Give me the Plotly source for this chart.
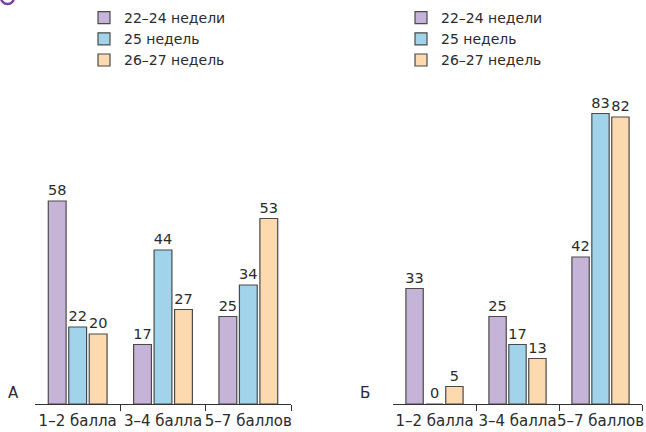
import plotly.graph_objects as go

categories = ["1–2 балла", "3–4 балла", "5–7 баллов"]
series_names = ["22–24 недели", "25 недель", "26–27 недель"]
panel_a = {
    "22–24 недели": [58, 17, 25],
    "25 недель": [22, 44, 34],
    "26–27 недель": [20, 27, 53],
}
panel_b = {
    "22–24 недели": [33, 25, 42],
    "25 недель": [0, 17, 83],
    "26–27 недель": [5, 13, 82],
}
colors = ["#C6B4D8", "#A1D4EB", "#FDD9AF"]
font_family = "DejaVu Sans, sans-serif"
W, H = 646, 432

fig = go.Figure()
xpos = list(range(len(categories)))

for panel, xa, ya, lg in [(panel_a, "x", "y", "legend"), (panel_b, "x2", "y2", "legend2")]:
    for name, col in zip(series_names, colors):
        vals = panel[name]
        fig.add_trace(go.Bar(
            x=xpos, y=vals, name=name, xaxis=xa, yaxis=ya, legend=lg,
            marker=dict(color=col, line=dict(color="#4a4a4a", width=1.2)),
            text=[str(v) for v in vals], textposition="outside",
            textfont=dict(size=14.5, color="#2a2a2a", family=font_family),
            constraintext="none", cliponaxis=False,
        ))

def px(x):
    return x / W

def py(y):
    return 1 - y / H

ydom = [py(404), py(54)]
xaxis_common = dict(
    range=[-0.5, 2.5], tickmode="array", tickvals=xpos, ticktext=categories,
    ticks="", showline=True, linecolor="#333333", linewidth=1.2,
    showgrid=False, zeroline=False, fixedrange=True, automargin=False,
    tickangle=0, ticklabelstandoff=3,
    tickfont=dict(size=15, color="#2a2a2a", family=font_family),
    minor=dict(tickmode="array", tickvals=[0.5, 1.5, 2.5], ticks="outside",
               ticklen=6, tickwidth=1.2, tickcolor="#333333"),
)
yaxis_common = dict(range=[0, 100], visible=False, showgrid=False, zeroline=False,
                    fixedrange=True)

legend_font = dict(size=14, family=font_family, color="#2a2a2a")

fig.update_layout(
    width=W, height=H,
    margin=dict(l=0, r=0, t=0, b=0),
    paper_bgcolor="white", plot_bgcolor="white",
    barmode="group", bargap=0.28, bargroupgap=0.13,
    font=dict(family=font_family, size=15, color="#2a2a2a"),
    xaxis=dict(domain=[px(35), px(291)], anchor="y", **xaxis_common),
    yaxis=dict(domain=ydom, anchor="x", **yaxis_common),
    xaxis2=dict(domain=[px(393), px(642)], anchor="y2", **xaxis_common),
    yaxis2=dict(domain=ydom, anchor="x2", **yaxis_common),
    legend=dict(x=px(84), y=py(2), xanchor="left", yanchor="top",
                font=legend_font, bgcolor="rgba(0,0,0,0)", tracegroupgap=0),
    legend2=dict(x=px(401), y=py(2), xanchor="left", yanchor="top",
                 font=legend_font, bgcolor="rgba(0,0,0,0)", tracegroupgap=0),
    annotations=[
        dict(text="А", x=px(13), y=py(393), xref="paper", yref="paper",
             xanchor="center", yanchor="middle",
             showarrow=False, font=dict(size=15, color="#2a2a2a")),
        dict(text="Б", x=px(365), y=py(393), xref="paper", yref="paper",
             xanchor="center", yanchor="middle",
             showarrow=False, font=dict(size=15, color="#2a2a2a")),
    ],
    shapes=[
        dict(type="circle", xref="paper", yref="paper",
             x0=px(1), x1=px(14), y0=py(4), y1=py(-9),
             line=dict(color="#7B3F9E", width=2.5)),
    ],
)

fig.write_html("out.html", config={"displayModeBar": False},
               post_script="document.body.style.margin='0';")
